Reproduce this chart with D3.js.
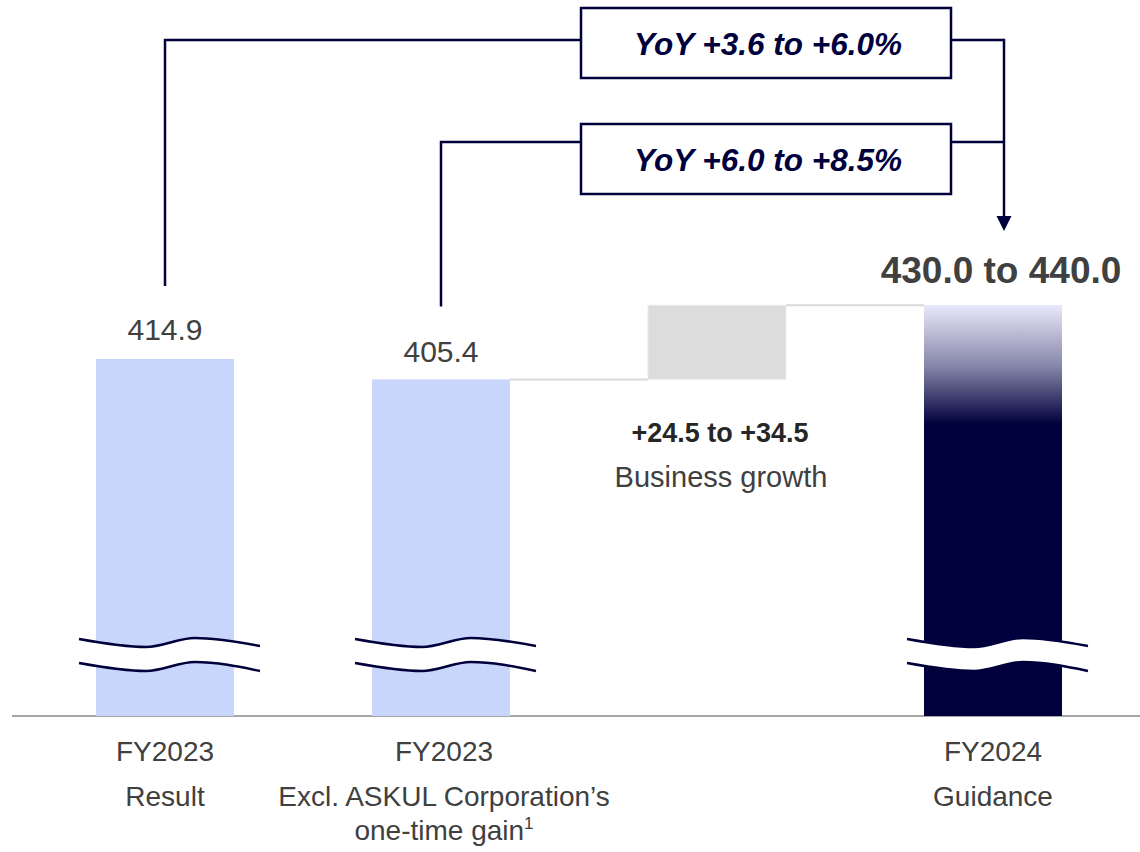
<!DOCTYPE html>
<html>
<head>
<meta charset="utf-8">
<script src="https://cdn.jsdelivr.net/npm/d3@7"></script>
<style>
  html, body { margin: 0; padding: 0; background: #ffffff; }
  svg { display: block; font-family: "Liberation Sans", Arial, sans-serif; }
</style>
</head>
<body>
<svg id="chart" width="1140" height="852"></svg>
<script>
// ---- data ----
const slots = ["result", "excl", "growth", "guidance"];
const barKeys = ["result", "excl", "guidance"];
const barValues = [414.9, 405.4, 440.0];
const valueLabels = ["414.9", "405.4", "430.0 to 440.0"];
const categoryLines = [
  ["FY2023", "Result"],
  ["FY2023", "Excl. ASKUL Corporation\u2019s", "one-time gain"],
  ["FY2024", "Guidance"]
];
const growthRange = [24.5, 34.5];
const growthLabel = "+24.5 to +34.5";
const growthName = "Business growth";
const yoyLabels = ["YoY +3.6 to +6.0%", "YoY +6.0 to +8.5%"];

// ---- layout ----
const navy = "#00003c";
const textGrey = "#404040";
const svg = d3.select("#chart");
const baseY = 716;

const x = d3.scaleBand().domain(slots).range([27, 1131])
  .paddingInner(0.5).paddingOuter(0.25);
const y = d3.scaleLinear().domain([400, 440]).range([391, 305]);
const bw = x.bandwidth();
const cx = k => x(k) + bw / 2;

// gradient for the guidance bar
const defs = svg.append("defs");
const grad = defs.append("linearGradient").attr("id", "guideGrad")
  .attr("x1", 0).attr("y1", 0).attr("x2", 0).attr("y2", 1);
grad.append("stop").attr("offset", 0).attr("stop-color", "#e9e9fb");
grad.append("stop").attr("offset", 0.15).attr("stop-color", "#8585a8");
grad.append("stop").attr("offset", 0.29).attr("stop-color", navy);
grad.append("stop").attr("offset", 1).attr("stop-color", navy);

// baseline
svg.append("line").attr("x1", 12).attr("x2", 1140)
  .attr("y1", baseY).attr("y2", baseY)
  .attr("stroke", "#a6a6a6").attr("stroke-width", 2);

// growth step: floating box from FY2023 excl. up by the upper growth bound
const growthBase = barValues[1];
const growthTop = growthBase + growthRange[1];

// grey connectors
svg.append("line")
  .attr("x1", x("excl") + bw).attr("x2", x("growth"))
  .attr("y1", y(growthBase)).attr("y2", y(growthBase))
  .attr("stroke", "#d9d9d9").attr("stroke-width", 2);
svg.append("line")
  .attr("x1", x("growth") + bw).attr("x2", x("guidance"))
  .attr("y1", y(growthTop)).attr("y2", y(growthTop))
  .attr("stroke", "#d9d9d9").attr("stroke-width", 2);

svg.append("rect")
  .attr("x", x("growth")).attr("width", bw)
  .attr("y", y(growthTop)).attr("height", y(growthBase) - y(growthTop))
  .attr("fill", "#dcdcdc").attr("stroke", "#ececec").attr("stroke-width", 1);

// bars
svg.selectAll("rect.bar").data(barKeys).join("rect")
  .attr("class", "bar")
  .attr("x", d => x(d)).attr("width", bw)
  .attr("y", (d, i) => y(barValues[i]))
  .attr("height", (d, i) => baseY - y(barValues[i]))
  .attr("fill", (d, i) => i === 2 ? "url(#guideGrad)" : "#c9d6fc");

// axis-break waves across each bar
const waveX = [0, 0.37, 0.64, 1];
const waveTop = [0, 8, -1, 7];
const waveBot = [0, 8, -1, 8];
barKeys.forEach(k => {
  const x0 = x(k) - 17, w = bw + 43;
  const pts = waveX.map((f, i) => ({ x: x0 + f * w, t: 639 + waveTop[i], b: 663 + waveBot[i] }));
  svg.append("path").datum(pts)
    .attr("d", d3.area().x(p => p.x).y0(p => p.b).y1(p => p.t).curve(d3.curveMonotoneX))
    .attr("fill", "#ffffff");
  ["t", "b"].forEach(key => {
    svg.append("path").datum(pts)
      .attr("d", d3.line().x(p => p.x).y(p => p[key]).curve(d3.curveMonotoneX))
      .attr("fill", "none").attr("stroke", navy).attr("stroke-width", 2.5);
  });
});

// value labels
svg.append("text").attr("x", cx("result")).attr("y", y(barValues[0]) - 19)
  .attr("text-anchor", "middle").attr("font-size", 30).attr("fill", textGrey)
  .text(valueLabels[0]);
svg.append("text").attr("x", cx("excl")).attr("y", y(barValues[1]) - 17)
  .attr("text-anchor", "middle").attr("font-size", 30).attr("fill", textGrey)
  .text(valueLabels[1]);
svg.append("text").attr("x", cx("guidance") + 8).attr("y", y(barValues[2]) - 22)
  .attr("text-anchor", "middle").attr("font-size", 37).attr("font-weight", "bold")
  .attr("fill", textGrey).text(valueLabels[2]);

// growth labels
svg.append("text").attr("x", cx("growth") + 3).attr("y", 442)
  .attr("text-anchor", "middle").attr("font-size", 27).attr("font-weight", "bold")
  .attr("fill", "#262626").text(growthLabel);
svg.append("text").attr("x", cx("growth") + 4).attr("y", 487)
  .attr("text-anchor", "middle").attr("font-size", 29).attr("fill", textGrey)
  .text(growthName);

// category labels
const lineY = [761, 806, 840];
categoryLines.forEach((lines, i) => {
  const t = svg.append("text").attr("text-anchor", "middle")
    .attr("font-size", 28).attr("fill", textGrey);
  lines.forEach((ln, j) => {
    const ts = t.append("tspan").attr("x", cx(barKeys[i]) + (i === 1 ? 3 : 0)).attr("y", lineY[j]).text(ln);
    if (i === 1 && j === 2) {
      ts.append("tspan").attr("font-size", 17).attr("dy", -11).text("1");
    }
  });
});

// YoY brackets
const boxX0 = 581, boxX1 = 951, boxH = 70;
const boxTops = [8, 124];
const lineYs = [40, 142];
const arrowX = 1004;
const starts = [cx("result"), cx("excl")];
const startVals = [barValues[0], barValues[1]];

boxTops.forEach((top, i) => {
  const ly = lineYs[i];
  svg.append("path")
    .attr("d", `M${starts[i]},${y(startVals[i]) - 73}V${ly}H${boxX0}`)
    .attr("fill", "none").attr("stroke", navy).attr("stroke-width", 2.5);
  svg.append("line").attr("x1", boxX1).attr("x2", arrowX)
    .attr("y1", ly).attr("y2", ly)
    .attr("stroke", navy).attr("stroke-width", 2.5);
  svg.append("rect").attr("x", boxX0).attr("y", top)
    .attr("width", boxX1 - boxX0).attr("height", boxH)
    .attr("fill", "#ffffff").attr("stroke", navy).attr("stroke-width", 2.5);
  svg.append("text").attr("x", (boxX0 + boxX1) / 2 + 2).attr("y", top + 47)
    .attr("text-anchor", "middle").attr("font-size", 31.5)
    .attr("font-weight", "bold").attr("font-style", "italic")
    .attr("fill", navy).text(yoyLabels[i]);
});

// arrow down to the guidance label
svg.append("line").attr("x1", arrowX).attr("x2", arrowX)
  .attr("y1", lineYs[0] - 1.25).attr("y2", 217)
  .attr("stroke", navy).attr("stroke-width", 2.5);
svg.append("path")
  .attr("d", `M${arrowX - 7.5},216L${arrowX + 7.5},216L${arrowX},231Z`)
  .attr("fill", navy);
</script>
</body>
</html>
